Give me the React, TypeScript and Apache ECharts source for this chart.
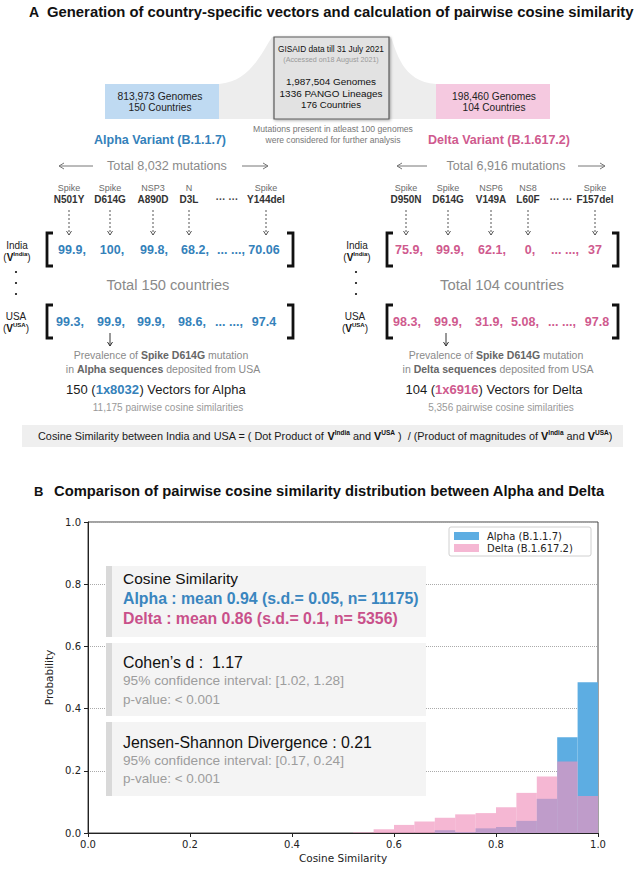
import React, { useEffect, useRef } from "react";
import * as echarts from "echarts";

// ---------------- data ----------------
const binLefts = [0.52, 0.56, 0.6, 0.64, 0.68, 0.72, 0.76, 0.8, 0.84, 0.88, 0.92, 0.96];
const binWidth = 0.04;
const alphaProb = [0, 0, 0, 0, 0.009, 0.003, 0.015, 0.019, 0.039, 0.11, 0.308, 0.485];
const deltaProb = [0.002, 0.012, 0.026, 0.037, 0.049, 0.06, 0.064, 0.083, 0.129, 0.182, 0.23, 0.119];
const legendLabels = ["Alpha (B.1.1.7)", "Delta (B.1.617.2)"];

const alphaGenes = ["Spike", "Spike", "NSP3", "N", "Spike"];
const alphaMutations = ["N501Y", "D614G", "A890D", "D3L", "Y144del"];
const alphaIndia = ["99.9,", "100,", "99.8,", "68.2,", "... ...,", "70.06"];
const alphaUSA = ["99.3,", "99.9,", "99.9,", "98.6,", "... ...,", "97.4"];
const deltaGenes = ["Spike", "Spike", "NSP6", "NS8", "Spike"];
const deltaMutations = ["D950N", "D614G", "V149A", "L60F", "F157del"];
const deltaIndia = ["75.9,", "99.9,", "62.1,", "0,", "... ...,", "37"];
const deltaUSA = ["98.3,", "99.9,", "31.9,", "5.08,", "... ...,", "97.8"];

const TITLE_A = "Generation of country-specific vectors and calculation of pairwise cosine similarity";
const TITLE_B = "Comparison of pairwise cosine similarity distribution between Alpha and Delta";
const gisaidLines = ["GISAID data till 31 July 2021", "(Accessed on18 August 2021)", "1,987,504 Genomes", "1336 PANGO Lineages", "176 Countries"];
const alphaBox = ["813,973 Genomes", "150 Countries"];
const deltaBox = ["198,460 Genomes", "104 Countries"];
const filterNote = ["Mutations present in atleast 100 genomes", "were considered for further analysis"];
const statsCosine = ["Cosine Similarity", "Alpha : mean 0.94 (s.d.= 0.05, n= 11175)", "Delta : mean 0.86 (s.d.= 0.1, n= 5356)"];
const statsCohen = ["Cohen\u2019s d :  1.17", "95% confidence interval: [1.02, 1.28]", "p-value: < 0.001"];
const statsJS = ["Jensen-Shannon Divergence : 0.21", "95% confidence interval: [0.17, 0.24]", "p-value: < 0.001"];

// ---------------- styles ----------------
const SANS = "'Liberation Sans', Arial, Helvetica, sans-serif";
const MPL = "'DejaVu Sans', sans-serif";
const BLUE_TXT = "#3481ba";
const PINK_TXT = "#cf5a8e";
const BAR_BLUE = "#5dade2";
const BAR_PINK = "rgba(240,148,190,0.67)";

try {
  echarts.graphic.registerShape(
    "funnelShape",
    echarts.graphic.extendPath(
      "M219,84 C250,82 262,52 272,37 L391,37 C396,50 402,82 436,84 L436,119 L219,119 Z",
      {}
    )
  );
} catch (e) {}

let mctx: any = null;
function measure(t: string, size: number, weight = "normal", family = SANS) {
  if (!mctx) mctx = document.createElement("canvas").getContext("2d");
  mctx.font = `${weight} ${size}px ${family}`;
  return mctx.measureText(t).width;
}
function fitSize(t: string, target: number, weight = "normal", family = SANS) {
  return (10 * target) / measure(t, 10, weight, family);
}

function txt(text: string, x: number, y: number, o: any = {}) {
  const weight = o.weight || "normal";
  const family = o.family || SANS;
  const size = o.fit ? fitSize(text, o.fit, weight, family) : o.size || 10;
  return {
    type: "text",
    x,
    y,
    silent: true,
    z: 100,
    style: {
      text,
      fontSize: size,
      fontWeight: weight,
      fontFamily: family,
      fill: o.color || "#222",
      align: o.align || "center",
      verticalAlign: "middle",
    },
  };
}

function rich(segs: [string, string][], styles: any, x: number, y: number, o: any = {}) {
  let size = o.size || 10;
  if (o.fit) {
    let w = 0;
    for (const [t, k] of segs) {
      const s = styles[k];
      w += measure(t, 10 * (s.k || 1), s.weight || "normal");
    }
    size = (10 * o.fit) / w;
  }
  const r: any = {};
  for (const k in styles) {
    const s = styles[k];
    const fs = size * (s.k || 1);
    r[k] = {
      fontSize: fs,
      fontWeight: s.weight || "normal",
      fontFamily: SANS,
      fill: s.color || "#222",
      lineHeight: s.sup ? fs * 1.1 : size * 1.25,
      verticalAlign: s.sup ? "top" : "middle",
    };
  }
  return {
    type: "text",
    x,
    y,
    silent: true,
    z: 100,
    style: {
      text: segs.map(([t, k]) => `{${k}|${t}}`).join(""),
      rich: r,
      fontSize: size,
      fontFamily: SANS,
      align: o.align || "center",
      verticalAlign: "middle",
    },
  };
}

function arrow(x1: number, y1: number, x2: number, y2: number, color: string, lw = 1, dash?: number[], hb = 5, hw = 3) {
  const dx = x2 - x1, dy = y2 - y1;
  const L = Math.hypot(dx, dy);
  const ux = dx / L, uy = dy / L;
  const p1 = [x2 - ux * hb - uy * hw, y2 - uy * hb + ux * hw];
  const p2 = [x2 - ux * hb + uy * hw, y2 - uy * hb - ux * hw];
  return [
    { type: "line", z: 100, silent: true, shape: { x1, y1, x2, y2 }, style: { stroke: color, lineWidth: lw, lineDash: dash } },
    { type: "polyline", z: 100, silent: true, shape: { points: [p1, [x2, y2], p2] }, style: { stroke: color, lineWidth: lw, fill: null } },
  ];
}

function bracket(x: number, top: number, bottom: number, dir: number) {
  return {
    type: "polyline",
    z: 100,
    silent: true,
    shape: { points: [[x + dir * 6, top], [x, top], [x, bottom], [x + dir * 6, bottom]] },
    style: { stroke: "#111", lineWidth: 2.8, fill: null },
  };
}

function vLabel(name: string, x: number, y: number) {
  return rich(
    [["(", "n"], ["V", "v"], [name, "s"], [")", "n"]],
    { n: { color: "#222" }, v: { weight: "bold", color: "#111" }, s: { weight: "bold", k: 0.6, sup: true, color: "#111" } },
    x, y, { size: 10 }
  );
}

function variantBlock(g: any[], v: any) {
  // horizontal arrows and total mutations
  g.push(...arrow(v.arrowL[1], 166, v.arrowL[0], 166, "#777", 1));
  g.push(...arrow(v.arrowR[0], 166, v.arrowR[1], 166, "#777", 1));
  g.push(txt(v.totalText, v.totalX, 166, { fit: v.totalFit, color: "#8a8a8a" }));
  // mutation labels
  v.mutX.forEach((x: number, i: number) => {
    g.push(txt(v.genes[i], x, 188, { size: 9, color: "#6a6a6a" }));
    g.push(txt(v.muts[i], x, 199.5, { size: 10, weight: "bold", color: "#333" }));
    g.push(...arrow(x, 210, x, 235, "#555", 1, [2, 2], 4, 2.5));
  });
  g.push(txt("\u00b7\u00b7\u00b7 \u00b7\u00b7\u00b7", v.dotsX, 199.5, { size: 10, weight: "bold", color: "#444" }));
  // India row
  g.push(txt("India", v.labelX, 245, { size: 10, color: "#222" }));
  g.push(vLabel("India", v.labelX, 257.5));
  g.push(bracket(v.brL, 233, 266, 1));
  g.push(bracket(v.brR, 233, 266, -1));
  v.indiaX.forEach((x: number, i: number) => g.push(txt(v.india[i], x, 250, { size: 12.5, weight: "bold", color: v.color })));
  // vertical dots
  [272, 283, 294].forEach((y) =>
    g.push({ type: "circle", z: 100, silent: true, shape: { cx: v.dotColX, cy: y, r: 1.1 }, style: { fill: "#222" } })
  );
  g.push(txt(v.countriesText, v.countriesX, 285, { fit: v.countriesFit, color: "#8a8a8a" }));
  // USA row
  g.push(txt("USA", v.usaLabelX, 316, { size: 10, color: "#222" }));
  g.push(vLabel("USA", v.usaLabelX, 328));
  g.push(bracket(v.brL, 305, 338, 1));
  g.push(bracket(v.brR, 305, 338, -1));
  v.usaX.forEach((x: number, i: number) => g.push(txt(v.usa[i], x, 322, { size: 12.5, weight: "bold", color: v.color })));
  // down arrow and notes
  g.push(...arrow(v.downX, 333, v.downX, 346, "#333", 1, undefined, 4, 2.5));
  const gs = { g: { color: "#8a8a8a" }, gb: { weight: "bold", color: "#666" } };
  g.push(rich([["Prevalence of ", "g"], ["Spike D614G", "gb"], [" mutation", "g"]], gs, v.prevX, 354.5, { size: 10.5 }));
  g.push(rich([["in ", "g"], [v.seqText, "gb"], [" deposited from USA", "g"]], gs, v.prevX + 2, 368.5, { size: 10.5 }));
  g.push(
    rich(
      [[v.vecCount + " (", "n"], [v.vecDim, "c"], [") Vectors for " + v.name, "n"]],
      { n: { color: "#1a1a1a" }, c: { weight: "bold", color: v.color } },
      v.vecX, 389, { size: 13 }
    )
  );
  g.push(txt(v.pairText, v.pairX, 407, { size: 10, color: "#999" }));
}

function buildGraphic() {
  const g: any[] = [];
  // ---------- Panel A ----------
  g.push(txt("A", 29, 12, { size: 14, weight: "bold", align: "left", color: "#111" }));
  g.push(txt(TITLE_A, 47, 12, { fit: 587, weight: "bold", align: "left", color: "#111" }));

  g.push({ type: "funnelShape", z: 100, silent: true, style: { fill: "#ededed" } });
  g.push({ type: "rect", z: 100, silent: true, shape: { x: 105, y: 84, width: 114, height: 35 }, style: { fill: "#bfdaf2" } });
  g.push({ type: "rect", z: 100, silent: true, shape: { x: 436, y: 84, width: 114, height: 35 }, style: { fill: "#f5c9e0" } });
  g.push({
    type: "rect",
    z: 100,
    silent: true,
    shape: { x: 274, y: 37, width: 115, height: 82 },
    style: { fill: "#e2e2e2", stroke: "#5a5a5a", lineWidth: 1.2, shadowBlur: 3, shadowColor: "rgba(0,0,0,0.35)", shadowOffsetX: 1, shadowOffsetY: 1 },
  });
  g.push(txt(gisaidLines[0], 331, 49, { fit: 106, color: "#111" }));
  g.push(txt(gisaidLines[1], 331, 59.5, { fit: 96, color: "#9a9a9a" }));
  g.push(txt(gisaidLines[2], 331, 81, { fit: 90, color: "#111" }));
  g.push(txt(gisaidLines[3], 331, 93, { fit: 103, color: "#111" }));
  g.push(txt(gisaidLines[4], 331, 104.5, { fit: 60, color: "#111" }));

  g.push(txt(alphaBox[0], 160, 96, { fit: 85, color: "#222" }));
  g.push(txt(alphaBox[1], 160, 107.5, { fit: 63, color: "#222" }));
  g.push(txt(deltaBox[0], 494, 96, { fit: 84, color: "#222" }));
  g.push(txt(deltaBox[1], 494, 107.5, { fit: 63, color: "#222" }));

  g.push(txt(filterNote[0], 333, 129, { fit: 160, color: "#777" }));
  g.push(txt(filterNote[1], 333, 140, { fit: 135, color: "#777" }));
  g.push(txt("Alpha Variant (B.1.1.7)", 160, 140, { fit: 132, weight: "bold", color: BLUE_TXT }));
  g.push(txt("Delta Variant (B.1.617.2)", 499, 140, { fit: 142, weight: "bold", color: PINK_TXT }));

  variantBlock(g, {
    arrowL: [59, 93], arrowR: [242, 268], totalText: "Total 8,032 mutations", totalX: 167, totalFit: 120,
    mutX: [69, 110, 153, 189, 266], genes: alphaGenes, muts: alphaMutations, dotsX: 227,
    labelX: 17, usaLabelX: 16, brL: 47, brR: 293,
    indiaX: [72, 112, 154, 195, 231, 264], india: alphaIndia,
    usaX: [70, 111, 151, 192, 229, 264], usa: alphaUSA,
    color: BLUE_TXT, dotColX: 16, countriesText: "Total 150 countries", countriesX: 168, countriesFit: 123,
    downX: 110, prevX: 161, seqText: "Alpha sequences", vecCount: "150", vecDim: "1x8032", name: "Alpha", vecX: 156,
    pairText: "11,175 pairwise cosine similarities", pairX: 168,
  });
  variantBlock(g, {
    arrowL: [397, 427], arrowR: [578, 605], totalText: "Total 6,916 mutations", totalX: 506, totalFit: 119,
    mutX: [406, 448, 491, 528, 595], genes: deltaGenes, muts: deltaMutations, dotsX: 561,
    labelX: 357, usaLabelX: 355, brL: 387, brR: 618,
    indiaX: [409, 450, 492, 530, 565, 595], india: deltaIndia,
    usaX: [407, 448, 489, 525, 562, 597], usa: deltaUSA,
    color: PINK_TXT, dotColX: 356, countriesText: "Total 104 countries", countriesX: 502, countriesFit: 124,
    downX: 446, prevX: 496, seqText: "Delta sequences", vecCount: "104", vecDim: "1x6916", name: "Delta", vecX: 494,
    pairText: "5,356 pairwise cosine similarities", pairX: 501,
  });

  // formula
  g.push({ type: "rect", z: 100, silent: true, shape: { x: 22, y: 425, width: 601, height: 22 }, style: { fill: "#efefef" } });
  const fst = {
    n: { color: "#1a1a1a" },
    v: { weight: "bold", color: "#111" },
    s: { weight: "bold", k: 0.6, sup: true, color: "#111" },
  };
  g.push(
    rich(
      [
        ["Cosine Similarity between India and USA = ( Dot Product of ", "n"], ["V", "v"], ["India", "s"], [" and ", "n"], ["V", "v"], ["USA", "s"],
        [" )  / (Product of magnitudes of ", "n"], ["V", "v"], ["India", "s"], [" and ", "n"], ["V", "v"], ["USA", "s"], [")", "n"],
      ],
      fst, 38, 436, { fit: 575, align: "left" }
    )
  );

  // ---------- Panel B ----------
  g.push(txt("B", 34, 491, { size: 13, weight: "bold", align: "left", color: "#111" }));
  g.push(txt(TITLE_B, 54, 491, { fit: 551, weight: "bold", align: "left", color: "#111" }));

  const boxes = [
    [566, 71],
    [643, 73],
    [722, 74],
  ];
  boxes.forEach(([y, h]) => {
    g.push({ type: "rect", z: 100, silent: true, shape: { x: 106, y, width: 320, height: h }, style: { fill: "#f4f4f4" } });
    g.push({ type: "rect", z: 100, silent: true, shape: { x: 106, y, width: 6, height: h }, style: { fill: "#d9d9d9" } });
  });
  g.push(txt(statsCosine[0], 123, 578, { fit: 115, align: "left", color: "#111" }));
  g.push(txt(statsCosine[1], 123, 598, { fit: 296, weight: "bold", align: "left", color: "#3a86bf" }));
  g.push(txt(statsCosine[2], 123, 618, { fit: 275, weight: "bold", align: "left", color: "#c9508a" }));
  g.push(txt(statsCohen[0], 123, 662, { fit: 120, align: "left", color: "#111" }));
  g.push(txt(statsCohen[1], 123, 680, { fit: 221, align: "left", color: "#9d9d9d" }));
  g.push(txt(statsCohen[2], 123, 699, { fit: 97, align: "left", color: "#9d9d9d" }));
  g.push(txt(statsJS[0], 123, 742, { fit: 249, align: "left", color: "#111" }));
  g.push(txt(statsJS[1], 123, 760, { fit: 221, align: "left", color: "#9d9d9d" }));
  g.push(txt(statsJS[2], 123, 778, { fit: 97, align: "left", color: "#9d9d9d" }));

  // legend
  g.push({ type: "rect", z: 100, silent: true, shape: { x: 449, y: 527, width: 142, height: 29, r: 2 }, style: { fill: "#fff", stroke: "#d0d0d0", lineWidth: 1 } });
  g.push({ type: "rect", z: 100, silent: true, shape: { x: 454, y: 532, width: 25, height: 8 }, style: { fill: BAR_BLUE } });
  g.push({ type: "rect", z: 100, silent: true, shape: { x: 454, y: 544, width: 25, height: 8 }, style: { fill: BAR_PINK } });
  g.push(txt(legendLabels[0], 487, 536, { size: 10, family: MPL, align: "left", color: "#222" }));
  g.push(txt(legendLabels[1], 487, 548, { size: 10, family: MPL, align: "left", color: "#222" }));
  return g;
}

function histSeries(name: string, probs: number[], color: string) {
  const data = binLefts
    .map((l, i) => [l, +(l + binWidth).toFixed(2), probs[i]])
    .filter((d) => d[2] > 0);
  return {
    type: "custom",
    name,
    data,
    encode: { x: [0, 1], y: 2 },
    clip: true,
    renderItem: (params: any, api: any) => {
      const p0 = api.coord([api.value(0), api.value(2)]);
      const p1 = api.coord([api.value(1), 0]);
      return {
        type: "rect",
        shape: { x: p0[0], y: p0[1], width: p1[0] - p0[0], height: p1[1] - p0[1] },
        style: { fill: color },
      };
    },
  };
}

function buildOption() {
  const axisCommon = {
    type: "value",
    min: 0,
    max: 1,
    interval: 0.2,
    axisLine: { show: true, lineStyle: { color: "#222", width: 1 } },
    axisTick: { show: true, length: 4, lineStyle: { color: "#222" } },
    axisLabel: { formatter: (v: number) => v.toFixed(1), fontFamily: MPL, fontSize: 10, color: "#222", margin: 6 },
    nameLocation: "middle",
    nameTextStyle: { fontFamily: MPL, fontSize: 10.5, color: "#222" },
  };
  return {
    animation: false,
    backgroundColor: "#fff",
    grid: { left: 88, top: 522, width: 510, height: 311, show: true, borderColor: "#444", borderWidth: 1, backgroundColor: "transparent" },
    xAxis: { ...axisCommon, name: "Cosine Similarity", nameGap: 19, splitLine: { show: false } },
    yAxis: {
      ...axisCommon,
      name: "Probability",
      nameGap: 33,
      axisLabel: { ...axisCommon.axisLabel, margin: 7 },
      splitLine: { show: true, lineStyle: { type: "dotted", color: "#aaaaaa", width: 1 } },
    },
    series: [histSeries(legendLabels[0], alphaProb, BAR_BLUE), histSeries(legendLabels[1], deltaProb, BAR_PINK)],
    graphic: buildGraphic(),
  };
}

export default function App() {
  const ref = useRef<HTMLDivElement>(null);
  useEffect(() => {
    const chart = echarts.init(ref.current!, null, { renderer: "svg" });
    chart.setOption(buildOption() as any);
    return () => chart.dispose();
  }, []);
  return (
    <div
      ref={ref}
      style={{ position: "absolute", left: 0, top: 0, width: 637, height: 870, background: "#fff" }}
    />
  );
}
